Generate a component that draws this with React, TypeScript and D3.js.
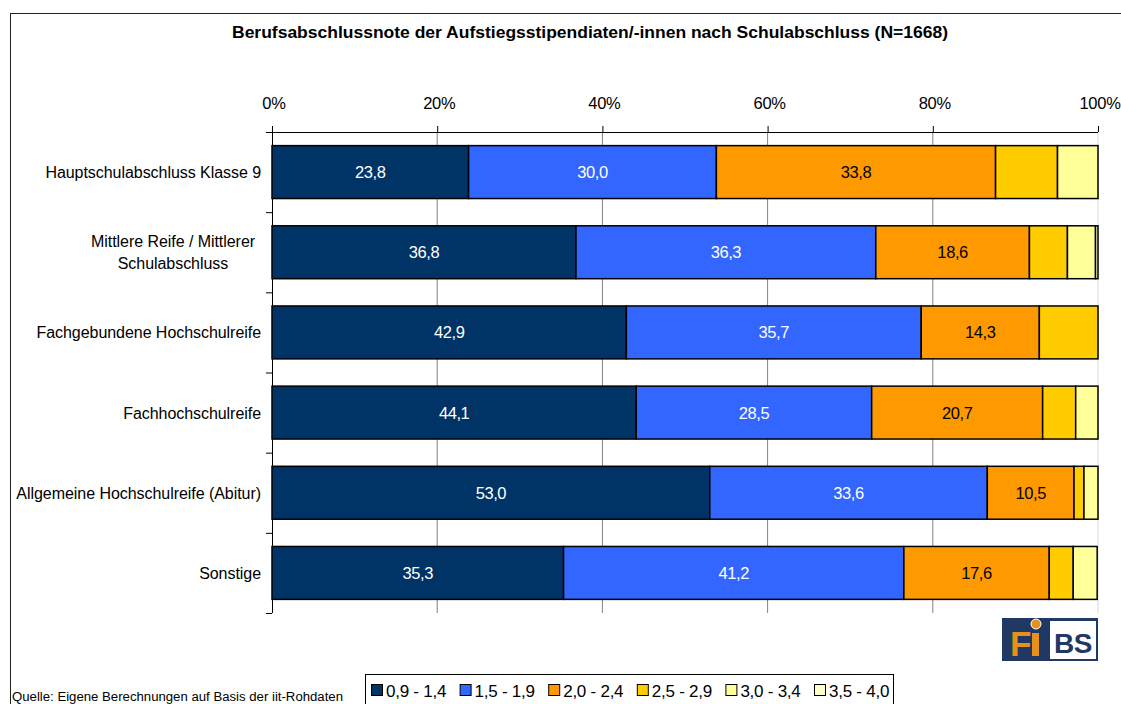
import React from "react";
import * as d3 from "d3";

const categories = [
  "Hauptschulabschluss Klasse 9",
  "Mittlere Reife / Mittlerer|Schulabschluss",
  "Fachgebundene Hochschulreife",
  "Fachhochschulreife",
  "Allgemeine Hochschulreife (Abitur)",
  "Sonstige",
];
const seriesNames = ["0,9 - 1,4", "1,5 - 1,9", "2,0 - 2,4", "2,5 - 2,9", "3,0 - 3,4", "3,5 - 4,0"];
const s1 = [23.8, 36.8, 42.9, 44.1, 53.0, 35.3];
const s2 = [30.0, 36.3, 35.7, 28.5, 33.6, 41.2];
const s3 = [33.8, 18.6, 14.3, 20.7, 10.5, 17.6];
const s4 = [7.5, 4.6, 7.1, 4.0, 1.2, 2.9];
const s5 = [4.9, 3.4, 0, 2.7, 1.7, 2.9];
const s6 = [0, 0.3, 0, 0, 0, 0];
const seriesValues = [s1, s2, s3, s4, s5, s6];
const colors = ["#003366", "#3366FF", "#FF9900", "#FFCC00", "#FFFF99", "#FFFFCC"];
const labelColors = ["#ffffff", "#ffffff", "#000000"];
const xTicks = [0, 20, 40, 60, 80, 100];
const title = "Berufsabschlussnote der Aufstiegsstipendiaten/-innen nach Schulabschluss (N=1668)";
const source = "Quelle: Eigene Berechnungen auf Basis der iit-Rohdaten";

const FONT = "'Liberation Sans', Arial, sans-serif";

export default function App() {
  const W = 1121, H = 704;
  const left = 272, right = 1098, top = 132, bottom = 613;
  const x = d3.scaleLinear().domain([0, 100]).range([left, right]);
  const y = d3.scaleBand<string>().domain(categories).range([top, bottom]).paddingInner(0.34).paddingOuter(0.17);
  const step = y.step();

  const rows = categories.map((c, i) => {
    let acc = 0;
    return seriesValues.map((s, k) => {
      const v = s[i];
      const seg = { k, x0: acc, x1: acc + v, v };
      acc += v;
      return seg;
    });
  });

  const legendX0 = 371, legendStep = 88.6;

  return (
    <svg width={W} height={H} style={{ display: "block", position: "absolute", left: 0, top: 0 }} fontFamily={FONT}>
      <rect x={0} y={0} width={W} height={H} fill="#fff" />
      <rect x={10.5} y={13.5} width={W + 20} height={H + 20} fill="none" stroke="#222" strokeWidth={1} />
      <text x={590} y={38} textAnchor="middle" fontSize={16} fontWeight="bold" textLength={716} lengthAdjust="spacingAndGlyphs">{title}</text>

      {/* gridlines */}
      {xTicks.filter(t => t > 0).map(t => (
        <line key={t} x1={x(t)} x2={x(t)} y1={top} y2={bottom} stroke={t === 100 ? "#d8d8d8" : "#808080"} strokeWidth={1} />
      ))}

      {/* top axis */}
      <line x1={left} x2={right} y1={top + 0.5} y2={top + 0.5} stroke="#000" />
      {xTicks.map(t => (
        <g key={t}>
          <line x1={x(t) + 0.5} x2={x(t) + 0.5} y1={top - 6} y2={top} stroke="#000" />
          <text x={x(t) + 2} y={109} textAnchor="middle" fontSize={16.5} letterSpacing={-0.3}>{t}%</text>
        </g>
      ))}

      {/* left axis */}
      <line x1={left + 0.5} x2={left + 0.5} y1={top} y2={bottom} stroke="#000" />
      {d3.range(categories.length + 1).map(i => (
        <line key={i} x1={left - 6} x2={left} y1={top + i * step + 0.5} y2={top + i * step + 0.5} stroke="#000" />
      ))}

      {/* bars */}
      {rows.map((segs, i) => {
        const y0 = y(categories[i])!;
        const bh = y.bandwidth();
        return (
          <g key={i}>
            {segs.filter(s => s.v > 0).map(s => (
              <rect key={s.k} x={x(s.x0)} y={y0} width={x(s.x1) - x(s.x0)} height={bh} fill={colors[s.k]} stroke="#000" strokeWidth={1.5} />
            ))}
            {segs.filter(s => s.k < 3 && s.v > 0).map(s => (
              <text key={"t" + s.k} x={(x(s.x0) + x(s.x1)) / 2} y={y0 + bh / 2 + 6} textAnchor="middle" fontSize={16.5} fill={labelColors[s.k]} letterSpacing={-0.4}>
                {s.v.toFixed(1).replace(".", ",")}
              </text>
            ))}
          </g>
        );
      })}

      {/* category labels */}
      {categories.map((c, i) => {
        const lines = c.split("|");
        const cy = y(c)! + y.bandwidth() / 2;
        if (lines.length === 1) {
          return <text key={c} x={261} y={cy + 6} textAnchor="end" fontSize={16} letterSpacing={-0.05}>{c}</text>;
        }
        return (
          <text key={c} x={173} textAnchor="middle" fontSize={16} letterSpacing={-0.05}>
            {lines.map((l, j) => (
              <tspan key={j} x={173} y={cy - 5 + j * 22}>{l}</tspan>
            ))}
          </text>
        );
      })}

      {/* logo */}
      <g>
        <rect x={1002} y={618} width={96} height={43} fill="#1F3864" />
        <rect x={1050} y={621} width={46} height={38} fill="#fff" />
        <text x={1010} y={656} fontSize={35} fontWeight="bold" fill="#E8901C">F</text>
        <rect x={1032} y={633} width={7} height={23} fill="#E8901C" />
        <circle cx={1036} cy={624} r={5} fill="#E8901C" stroke="#fff" strokeWidth={1} />
        <text x={1073} y={653} textAnchor="middle" fontSize={28} fontWeight="bold" fill="#1F3864" letterSpacing={-0.5}>BS</text>
      </g>

      {/* source */}
      <text x={12} y={701} fontSize={12} textLength={331} lengthAdjust="spacingAndGlyphs">{source}</text>

      {/* legend */}
      <rect x={365.5} y={674.5} width={528} height={40} fill="#fff" stroke="#000" />
      {seriesNames.map((n, k) => (
        <g key={n}>
          <rect x={legendX0 + k * legendStep + 0.5} y={684.5} width={11} height={11} fill={colors[k]} stroke="#000" strokeWidth={1} />
          <text x={legendX0 + k * legendStep + 15} y={697} fontSize={17} letterSpacing={-0.25}>{n}</text>
        </g>
      ))}
    </svg>
  );
}
